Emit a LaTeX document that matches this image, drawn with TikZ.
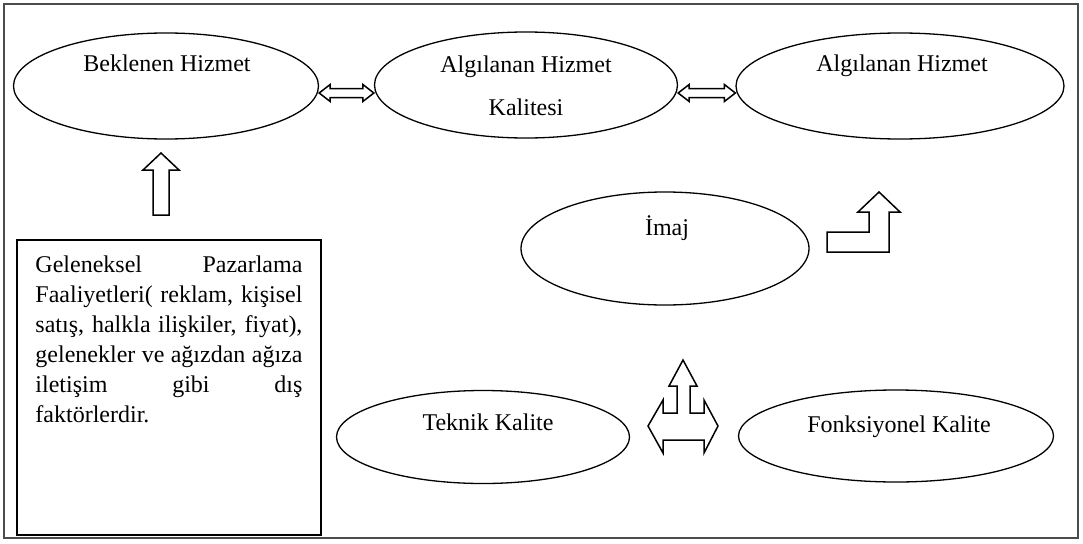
\documentclass[tikz,border=0pt]{standalone}
\usepackage{fontspec}
\setmainfont{Liberation Serif}
\usetikzlibrary{shapes.geometric,calc}
\tikzset{
  ell/.style={ellipse, draw, line width=1.3pt, inner sep=0pt},
  lbl/.style={font=\fontsize{24}{43}\selectfont, inner sep=0pt, align=center, text height=16pt, text depth=5pt},
  blockarrow/.style={draw, line width=1.5pt, line join=miter, fill=white},
  frame/.style={draw=black!70, line width=1.5pt},
  boxstyle/.style={draw, line width=1.5pt, rectangle, inner sep=0pt}
}
\newcommand\hdblarrow[2]{%
  \draw[blockarrow] (#1) -- ++(11,-8.5) -- ++(0,4) -- ($(#2)+(-11,-4.5)$) -- ++(0,-4)
    -- (#2) -- ++(-11,8.5) -- ++(0,-4) -- ($(#1)+(11,4.5)$) -- ++(0,4) -- cycle;}
\newcommand\jline[1]{\noindent\hbox to 267pt{\spaceskip=0.25em plus 1fil\relax #1}\par}
\begin{document}
\begin{tikzpicture}[x=1pt,y=-1pt]
\useasboundingbox (0,0) rectangle (1083,543);
\fill[white] (0,0) rectangle (1083,543);
\draw[frame] (4,4) rectangle (1078,538);

% ellipses
\node[ell, minimum width=305pt, minimum height=106pt] (e1) at (166,86) {};
\node[ell, minimum width=303pt, minimum height=106pt] (e2) at (526,85) {};
\node[ell, minimum width=328pt, minimum height=106pt] (e3) at (900,86) {};
\node[ell, minimum width=288pt, minimum height=113pt] (im) at (665,248.5) {};
\node[ell, minimum width=293pt, minimum height=93pt] (tk) at (483,437) {};
\node[ell, minimum width=315pt, minimum height=92pt] (fk) at (896,436) {};

% labels
\node[lbl] (t1) at ($(e1.center)+(1,-20)$) {Beklenen Hizmet};
\node[lbl, text height=, text depth=] (t2) at ($(e2.center)+(0,1)$) {Algılanan Hizmet\\Kalitesi};
\node[lbl] (t3) at ($(e3.center)+(2,-20)$) {Algılanan Hizmet};
\node[lbl] (t4) at (667,230) {İmaj};
\node[lbl] (t5) at (488,425) {Teknik Kalite};
\node[lbl] (t6) at (899,427) {Fonksiyonel Kalite};

% text box
\node[boxstyle, minimum width=304pt, minimum height=295pt] (bx) at (169,387.5) {};
\node[anchor=north west, inner sep=0pt, text width=267pt] (bt)
  at ($(bx.north west)+(19,16)$)
  {\fontsize{24}{30}\selectfont\baselineskip=30pt\parindent=0pt
   \jline{Geleneksel Pazarlama}
   \jline{Faaliyetleri( reklam, kişisel}
   \jline{satış, halkla ilişkiler, fiyat),}
   \jline{gelenekler ve ağızdan ağıza}
   \jline{iletişim gibi dış}
   \noindent faktörlerdir.\par};

% double arrows between the top ellipses
\coordinate (d1l) at ($(e1.east)+(0,7)$);
\coordinate (d1r) at ($(e2.west)+(0,8)$);
\coordinate (d2l) at ($(e2.east)+(0,8)$);
\coordinate (d2r) at ($(e3.west)+(0,7)$);
\hdblarrow{d1l}{d1r}
\hdblarrow{d2l}{d2r}

% up arrow from box to Beklenen Hizmet
\coordinate (uptip) at (161,153);
\draw[blockarrow] (uptip) -- ++(18,17) -- ++(-10,0) -- ++(0,45) -- ++(-16,0)
  -- ++(0,-45) -- ++(-10,0) -- cycle;

% bent arrow from Imaj towards Algilanan Hizmet
\coordinate (bent) at (827,252);
\draw[blockarrow] (bent) -- ++(0,-20) -- ++(42,0) -- ++(0,-20) -- ++(-11,0)
  -- ++(21,-20) -- ++(21,20) -- ++(-11,0) -- ++(0,40) -- cycle;

% three-way arrow
\coordinate (tw) at (648,426);
\draw[blockarrow] (tw) -- ++(15,-26) -- ++(0,13) -- ++(14,0) -- ++(0,-27)
  -- ++(-8,0) -- ++(14,-26) -- ++(14,26) -- ++(-7,0) -- ++(0,27) -- ++(14,0)
  -- ++(0,-13) -- ++(14,26) -- ++(-14,27) -- ++(0,-13) -- ++(-41,0) -- ++(0,13) -- cycle;
\end{tikzpicture}
\end{document}
